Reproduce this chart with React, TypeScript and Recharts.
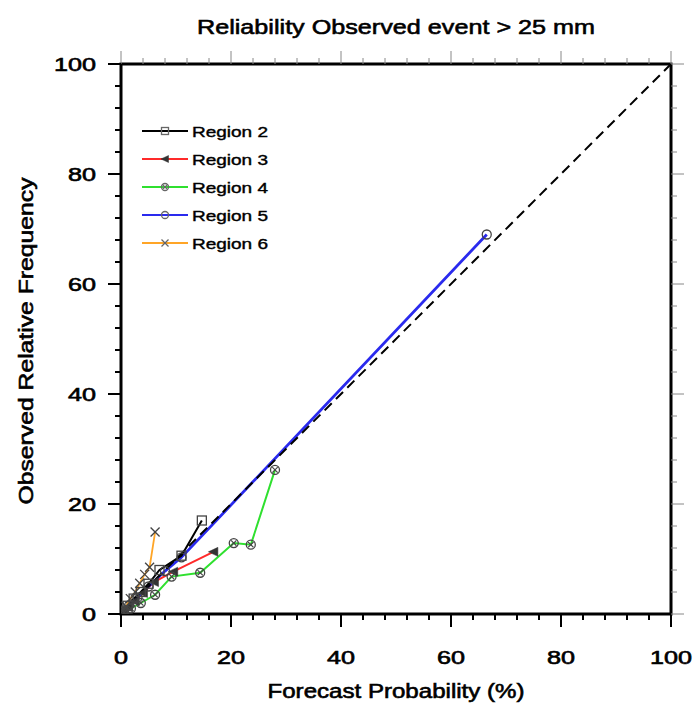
import React from 'react';
import { LineChart, Line, XAxis, YAxis, ReferenceLine, Customized } from 'recharts';

// ---- data ----
const region2X = [0.4, 1.2, 2.3, 3.6, 5.0, 7.0, 11.0, 14.7];
const region2Y = [0.6, 1.5, 2.8, 4.0, 5.5, 8.0, 10.6, 17.0];
const region3X = [0.4, 1.3, 2.5, 4.0, 6.0, 9.5, 16.8];
const region3Y = [0.4, 1.2, 2.3, 3.8, 5.8, 7.7, 11.3];
const region4X = [0.6, 1.8, 3.6, 6.2, 9.2, 14.4, 20.5, 23.6, 28.0];
const region4Y = [0.3, 1.0, 2.0, 3.5, 6.8, 7.5, 12.9, 12.6, 26.2];
const region5X = [0.3, 1.5, 3.0, 5.0, 8.0, 11.0, 66.5];
const region5Y = [0.4, 1.6, 3.0, 5.0, 7.8, 10.3, 69.0];
const region6X = [0.3, 0.9, 1.7, 2.6, 3.4, 4.3, 5.2, 6.2];
const region6Y = [0.5, 1.4, 2.8, 4.0, 5.6, 7.2, 8.5, 14.9];
const diagonalX = [0, 100];
const diagonalY = [0, 100];

const seriesNames = ['Region 2', 'Region 3', 'Region 4', 'Region 5', 'Region 6'];
const seriesColors = ['#000000', '#ff2a2a', '#2fe02f', '#2a2aee', '#ffa526'];
const seriesMarkers = ['square', 'triangle', 'circlex', 'circle', 'cross'];

const axisTicks = [0, 4, 8, 12, 16, 20, 24, 28, 32, 36, 40, 44, 48, 52, 56, 60, 64, 68, 72, 76, 80, 84, 88, 92, 96, 100];
const majorTickLabels = [0, 20, 40, 60, 80, 100];

const titleText = 'Reliability Observed event > 25 mm';
const xTitle = 'Forecast Probability (%)';
const yTitle = 'Observed Relative Frequency';

const FONT = '"Liberation Sans", Arial, Helvetica, sans-serif';

const toPoints = (xs: number[], ys: number[]) => xs.map((x, i) => ({ x, y: ys[i] }));

// plot frame geometry (page coords; chart is placed at page origin)
const W = 693;
const H = 704;
const PL = 121;
const PT = 64;
const PW = 550;
const PH = 550;

const Marker = ({ kind, cx, cy, s = 4.5, color = '#444' }: any) => {
  if (cx == null || cy == null) return null;
  switch (kind) {
    case 'square':
      return <rect x={cx - s} y={cy - s} width={2 * s} height={2 * s} fill="none" stroke={color} strokeWidth={1.3} />;
    case 'triangle':
      return <polygon points={`${cx - s - 0.5},${cy} ${cx + s},${cy - s} ${cx + s},${cy + s}`} fill="#333" stroke="#333" strokeWidth={0.5} />;
    case 'circlex':
      return (
        <g>
          <circle cx={cx} cy={cy} r={s} fill="none" stroke={color} strokeWidth={1.3} />
          <line x1={cx - s * 0.6} y1={cy - s * 0.6} x2={cx + s * 0.6} y2={cy + s * 0.6} stroke={color} strokeWidth={1.2} />
          <line x1={cx - s * 0.6} y1={cy + s * 0.6} x2={cx + s * 0.6} y2={cy - s * 0.6} stroke={color} strokeWidth={1.2} />
        </g>
      );
    case 'circle':
      return <circle cx={cx} cy={cy} r={s} fill="none" stroke={color} strokeWidth={1.3} />;
    case 'cross':
      return (
        <g>
          <line x1={cx - s} y1={cy - s} x2={cx + s} y2={cy + s} stroke={color} strokeWidth={1.3} />
          <line x1={cx - s} y1={cy + s} x2={cx + s} y2={cy - s} stroke={color} strokeWidth={1.3} />
        </g>
      );
    default:
      return null;
  }
};

const makeDot = (kind: string, name: string) => (p: any) => (
  <Marker key={`${name}-${p.index}`} kind={kind} cx={p.cx} cy={p.cy} />
);

const isMajor = (v: number) => majorTickLabels.includes(v);

const labelStyle = { fontFamily: FONT, fill: '#000', stroke: '#000', strokeWidth: 0.6 };

const BottomTick = (props: any) => {
  const { x, y, payload } = props;
  const v = payload.value;
  const major = isMajor(v);
  return (
    <g>
      <line x1={x} x2={x} y1={y} y2={y + (major ? 13 : 6)} stroke="#000" strokeWidth={2} />
      {major && (
        <text x={x} y={y + 50} textAnchor="middle" fontSize={18} {...labelStyle}
          textLength={String(v).length * 14} lengthAdjust="spacingAndGlyphs">{v}</text>
      )}
    </g>
  );
};

const LeftTick = (props: any) => {
  const { x, y, payload } = props;
  const v = payload.value;
  const major = isMajor(v);
  return (
    <g>
      <line x1={x} x2={x - (major ? 13 : 6)} y1={y} y2={y} stroke="#000" strokeWidth={2} />
      {major && (
        <text x={x - 25} y={y + 6.5} textAnchor="end" fontSize={18} {...labelStyle}
          textLength={String(v).length * 14} lengthAdjust="spacingAndGlyphs">{v}</text>
      )}
    </g>
  );
};

const TopTick = (props: any) => {
  const { x, y, payload } = props;
  const major = isMajor(payload.value);
  return <line x1={x} x2={x} y1={y} y2={y - (major ? 13 : 6)} stroke="#888" strokeWidth={1} />;
};

const RightTick = (props: any) => {
  const { x, y, payload } = props;
  const major = isMajor(payload.value);
  return <line x1={x} x2={x + (major ? 13 : 6)} y1={y} y2={y} stroke="#888" strokeWidth={1} />;
};

const Overlay = () => (
  <g>
    <rect x={PL} y={PT} width={PW} height={PH} fill="none" stroke="#000" strokeWidth={3} />
    <text x={PL + PW / 2} y={34} textAnchor="middle" fontSize={21} {...labelStyle}
      textLength={398} lengthAdjust="spacingAndGlyphs">{titleText}</text>
    <text x={PL + PW / 2} y={698} textAnchor="middle" fontSize={20} {...labelStyle}
      textLength={257} lengthAdjust="spacingAndGlyphs">{xTitle}</text>
    <text x={33} y={PT + PH / 2 + 2} textAnchor="middle" fontSize={20} {...labelStyle}
      textLength={327} lengthAdjust="spacingAndGlyphs"
      transform={`rotate(-90, 33, ${PT + PH / 2 + 2})`}>{yTitle}</text>
    {seriesNames.map((name, i) => {
      const cy = 131 + i * 28;
      return (
        <g key={name}>
          <line x1={142} x2={188} y1={cy} y2={cy} stroke={seriesColors[i]} strokeWidth={1.8} />
          <Marker kind={seriesMarkers[i]} cx={165} cy={cy} s={3.5} color="#666" />
          <text x={192} y={cy + 5.5} fontSize={15} fontFamily={FONT} fill="#000" stroke="#000" strokeWidth={0.4}
            textLength={76} lengthAdjust="spacingAndGlyphs">{name}</text>
        </g>
      );
    })}
  </g>
);

const series = [
  { name: seriesNames[1], data: toPoints(region3X, region3Y), color: seriesColors[1], marker: seriesMarkers[1], width: 2 },
  { name: seriesNames[2], data: toPoints(region4X, region4Y), color: seriesColors[2], marker: seriesMarkers[2], width: 2 },
  { name: seriesNames[3], data: toPoints(region5X, region5Y), color: seriesColors[3], marker: seriesMarkers[3], width: 2.8 },
  { name: seriesNames[0], data: toPoints(region2X, region2Y), color: seriesColors[0], marker: seriesMarkers[0], width: 2 },
  { name: seriesNames[4], data: toPoints(region6X, region6Y), color: seriesColors[4], marker: seriesMarkers[4], width: 1.8 },
];

export default function App() {
  return (
    <div style={{ position: 'absolute', left: 0, top: 0, width: W, height: H, overflow: 'hidden' }}>
      <LineChart width={W} height={H} margin={{ top: 0, right: 0, bottom: 0, left: 0 }}>
        <XAxis xAxisId="b" dataKey="x" type="number" domain={[0, 100]} ticks={axisTicks} interval={0}
          orientation="bottom" height={H - PT - PH} axisLine={false} tickLine={false} tickSize={0} tickMargin={0}
          tick={<BottomTick />} allowDataOverflow />
        <XAxis xAxisId="t" dataKey="x" type="number" domain={[0, 100]} ticks={axisTicks} interval={0}
          orientation="top" height={PT} axisLine={false} tickLine={false} tickSize={0} tickMargin={0}
          tick={<TopTick />} allowDataOverflow />
        <YAxis yAxisId="l" dataKey="y" type="number" domain={[0, 100]} ticks={axisTicks} interval={0}
          orientation="left" width={PL} axisLine={false} tickLine={false} tickSize={0} tickMargin={0}
          tick={<LeftTick />} allowDataOverflow />
        <YAxis yAxisId="r" dataKey="y" type="number" domain={[0, 100]} ticks={axisTicks} interval={0}
          orientation="right" width={W - PL - PW} axisLine={false} tickLine={false} tickSize={0} tickMargin={0}
          tick={<RightTick />} allowDataOverflow />
        {series.map((s) => (
          <Line key={s.name} xAxisId="b" yAxisId="l" data={s.data} dataKey="y" name={s.name} type="linear"
            stroke={s.color} strokeWidth={s.width} dot={makeDot(s.marker, s.name)} activeDot={false}
            isAnimationActive={false} />
        ))}
        <ReferenceLine xAxisId="b" yAxisId="l"
          segment={[{ x: diagonalX[0], y: diagonalY[0] }, { x: diagonalX[1], y: diagonalY[1] }]}
          stroke="#000" strokeWidth={2} strokeDasharray="10 6" ifOverflow="visible" />
        <Customized component={Overlay} />
      </LineChart>
    </div>
  );
}
